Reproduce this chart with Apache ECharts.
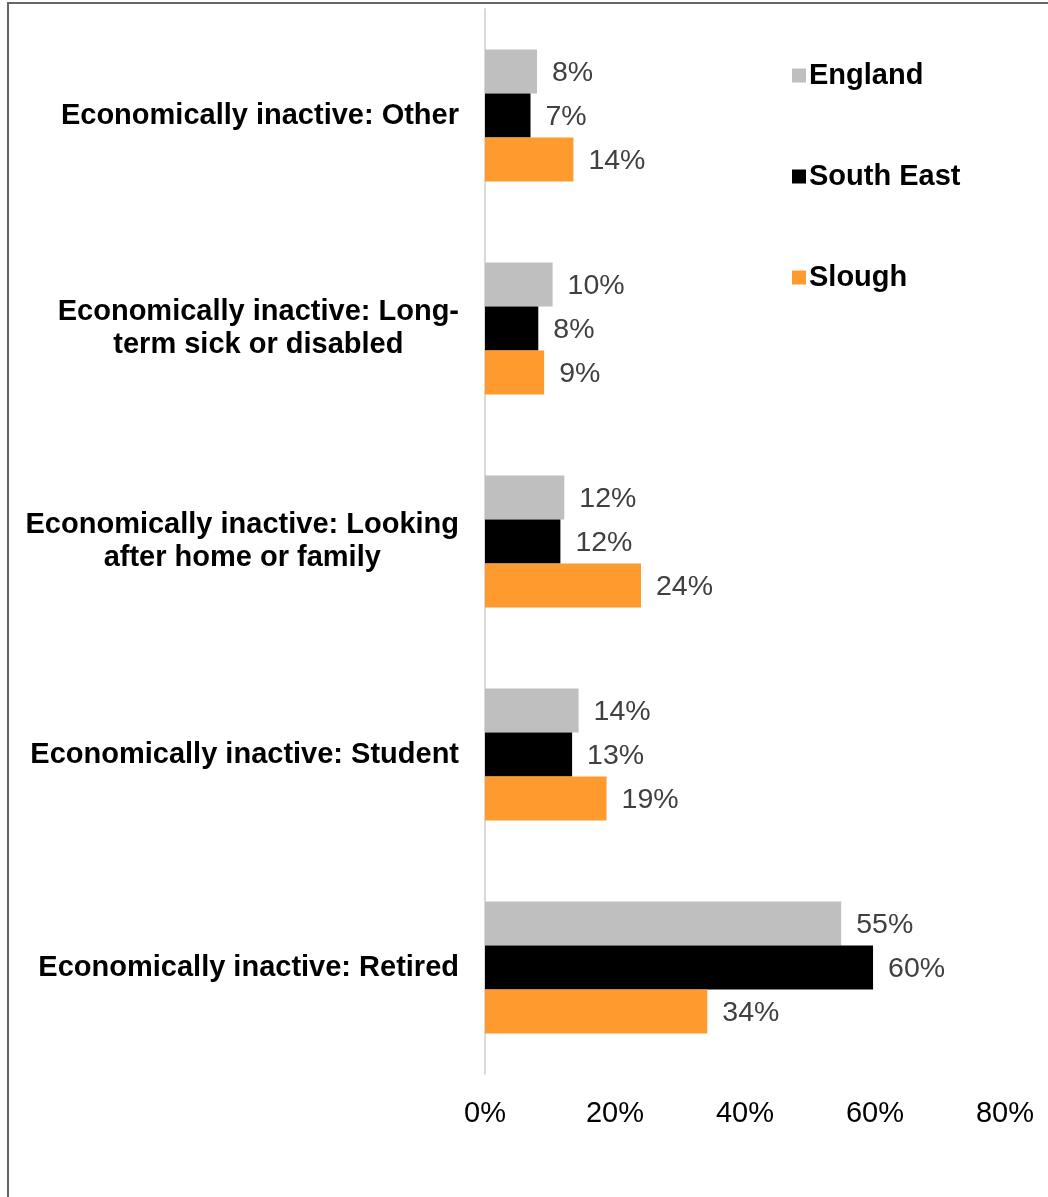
<!DOCTYPE html>
<html>
<head>
<meta charset="utf-8">
<title>Economically inactive</title>
<script src="https://cdn.jsdelivr.net/npm/echarts@6/dist/echarts.min.js"></script>
<style>
  html, body { margin: 0; padding: 0; background: #fff; }
  #chart { width: 1048px; height: 1197px; }
</style>
</head>
<body>
<div id="chart"></div>
<script>
// categories, top to bottom
const categories = [
  "Economically inactive: Other",
  "Economically inactive: Long-\nterm sick or disabled",
  "Economically inactive: Looking\nafter home or family",
  "Economically inactive: Student",
  "Economically inactive: Retired"
];
const seriesNames = ["England", "South East", "Slough"];
const england = [8.0, 10.4, 12.2, 14.4, 54.8];
const southEast = [7.0, 8.2, 11.6, 13.4, 59.7];
const slough = [13.6, 9.1, 24.0, 18.7, 34.2];
const xTicks = [0, 20, 40, 60, 80];

const FONT = "'Liberation Sans', Arial, sans-serif";
const colors = ["#BFBFBF", "#000000", "#FF9A2E"];

const chart = echarts.init(document.getElementById("chart"));

const makeSeries = (name, data, color) => ({
  name: name,
  type: "bar",
  data: data,
  barGap: "0%",
  barCategoryGap: "38%",
  itemStyle: { color: color },
  label: {
    show: true,
    position: "right",
    distance: 15,
    offset: [0, 2],
    color: "#404040",
    fontFamily: FONT,
    fontSize: 28.5,
    formatter: (p) => Math.round(p.value) + "%"
  }
});

const option = {
  animation: false,
  backgroundColor: "#fff",
  grid: { left: 485, right: 43, top: 9, bottom: 123 },
  legend: {
    data: seriesNames,
    orient: "vertical",
    left: 787,
    top: 56,
    itemWidth: 14,
    itemHeight: 14,
    itemGap: 72,
    icon: "rect",
    textStyle: {
      color: "#000",
      fontFamily: FONT,
      fontSize: 29,
      fontWeight: "bold",
      padding: [0, 0, 0, -2]
    }
  },
  xAxis: {
    type: "value",
    min: xTicks[0],
    max: xTicks[xTicks.length - 1],
    interval: 20,
    splitLine: { show: false },
    axisLine: { show: false },
    axisTick: { show: false },
    axisLabel: {
      color: "#000",
      fontFamily: FONT,
      fontSize: 29,
      margin: 25,
      formatter: (v) => v + "%"
    }
  },
  yAxis: {
    type: "category",
    data: categories,
    inverse: true,
    axisLine: { show: true, lineStyle: { color: "#D9D9D9", width: 2 } },
    axisTick: { show: false },
    axisLabel: {
      margin: 26,
      formatter: (v) => "{c|" + v + "}",
      rich: {
        c: {
          color: "#000",
          fontFamily: FONT,
          fontSize: 29,
          fontWeight: "bold",
          lineHeight: 33,
          align: "center"
        }
      }
    }
  },
  series: [
    makeSeries(seriesNames[0], england, colors[0]),
    makeSeries(seriesNames[1], southEast, colors[1]),
    makeSeries(seriesNames[2], slough, colors[2])
  ],
  graphic: [
    {
      type: "rect",
      silent: true,
      shape: { x: 8, y: 3, width: 1200, height: 1400 },
      style: { fill: null, stroke: "#666666", lineWidth: 2 }
    }
  ]
};

chart.setOption(option);
</script>
</body>
</html>
